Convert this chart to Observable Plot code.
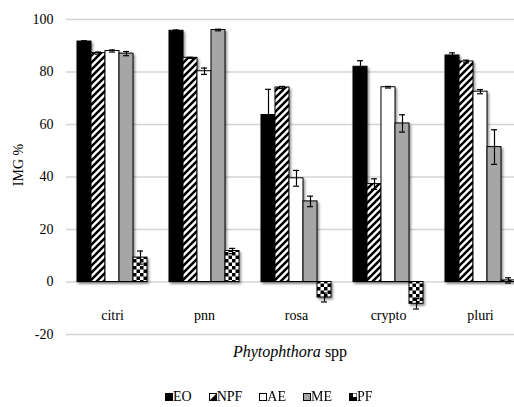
<!DOCTYPE html>
<html>
<head>
<meta charset="utf-8">
<script src="https://cdn.jsdelivr.net/npm/d3@7"></script>
<script src="https://cdn.jsdelivr.net/npm/@observablehq/plot@0.6"></script>
<style>
  html, body { margin: 0; padding: 0; background: #fff; width: 514px; height: 407px; overflow: hidden; }
  #wrap { position: relative; width: 514px; height: 407px; overflow: hidden; }
  #chart svg { max-width: none !important; width: 530px !important; height: 366px !important; display: block; }
  #legend { position: absolute; left: 165px; top: 389px; display: flex; gap: 17px; font-family: "Liberation Serif", "Times New Roman", serif; font-size: 14px; color: #000; align-items: center; }
  #legend .item { display: flex; align-items: center; }
</style>
</head>
<body>
<div id="wrap"><div id="chart"></div><div id="legend"></div></div>
<script>
const categories = ["citri", "pnn", "rosa", "crypto", "pluri"];
const series = ["EO", "NPF", "AE", "ME", "PF"];
const EO = [91.6, 95.7, 63.6, 82.0, 86.3];
const EO_err = [0.3, 0.3, 9.8, 2.3, 1.0];
const NPF = [87.2, 85.4, 74.1, 37.3, 84.0];
const NPF_err = [0.4, 0.2, 0.4, 2.0, 0.5];
const AE = [88.0, 80.3, 39.5, 74.2, 72.5];
const AE_err = [0.4, 1.2, 3.0, 0.3, 0.8];
const ME = [87.0, 96.0, 30.7, 60.4, 51.4];
const ME_err = [0.8, 0.3, 2.0, 3.3, 6.6];
const PF = [9.3, 11.8, -5.9, -8.3, 0.6];
const PF_err = [2.5, 1.0, 1.7, 2.0, 1.0];
const yTicks = [-20, 0, 20, 40, 60, 80, 100];

const values = {EO, NPF, AE, ME, PF};
const errors = {EO: EO_err, NPF: NPF_err, AE: AE_err, ME: ME_err, PF: PF_err};
const data = [];
categories.forEach((c, i) => series.forEach(s => data.push({cat: c, series: s, value: values[s][i], err: errors[s][i]})));

const fills = ["#000000", "url(#pat-npf)", "#ffffff", "#a6a6a6", "url(#pat-pf)"];

const chart = Plot.plot({
  width: 530,
  height: 366,
  marginLeft: 66,
  marginRight: 4,
  marginTop: 19,
  marginBottom: 32,
  style: {fontFamily: "'Liberation Serif', 'Times New Roman', serif", fontSize: "14px", color: "#000", background: "transparent", maxWidth: "none"},
  fx: {domain: categories, padding: 0},
  x: {domain: series, paddingInner: 0, paddingOuter: 0.69, axis: null},
  y: {domain: [-20, 100], ticks: yTicks},
  color: {domain: series, range: fills},
  marks: [
    Plot.gridY(yTicks, {stroke: "#d4d4d4", strokeOpacity: 1, strokeWidth: 1.4}),
    Plot.axisY(yTicks, {tickSize: 0, tickPadding: 13, label: null, fontSize: 14, tickFormat: d => String(d)}),
    Plot.axisFx({anchor: "bottom", tickSize: 0, tickPadding: 0, dy: -24, label: null, fontSize: 14}),
    Plot.barY(data, {fx: "cat", x: "series", y: "value", fill: "series", stroke: "#000", strokeWidth: 1}),
    Plot.ruleX(data, {fx: "cat", x: "series", y1: d => d.value - d.err, y2: d => d.value + d.err, stroke: "#000", strokeWidth: 1.2}),
    Plot.tickY(data, {fx: "cat", x: "series", y: d => d.value + d.err, insetLeft: 4, insetRight: 4, stroke: "#000", strokeWidth: 1.2}),
    Plot.tickY(data, {fx: "cat", x: "series", y: d => d.value - d.err, insetLeft: 4, insetRight: 4, stroke: "#000", strokeWidth: 1.2})
  ]
});

const svg = d3.select(chart);
const defs = svg.insert("defs", ":first-child");
defs.html(`
  <pattern id="pat-npf" patternUnits="userSpaceOnUse" width="7" height="7">
    <rect width="7" height="7" fill="#fff"/>
    <path d="M-1.75,1.75 L1.75,-1.75 M0,7 L7,0 M5.25,8.75 L8.75,5.25" stroke="#000" stroke-width="2.5"/>
  </pattern>
  <pattern id="pat-pf" patternUnits="userSpaceOnUse" width="7" height="7">
    <rect width="7" height="7" fill="#fff"/>
    <rect width="3.5" height="3.5" fill="#000"/>
    <rect x="3.5" y="3.5" width="3.5" height="3.5" fill="#000"/>
  </pattern>
  <filter id="shadow" x="-20%" y="-20%" width="150%" height="150%">
    <feDropShadow dx="1.5" dy="2" stdDeviation="1.3" flood-color="#000" flood-opacity="0.45"/>
  </filter>`);
svg.selectAll("g[aria-label='bar']").attr("filter", "url(#shadow)");

// y-axis title
svg.append("text")
  .attr("transform", "translate(23,165) rotate(-90)")
  .attr("text-anchor", "middle")
  .attr("font-size", 14)
  .text("IMG %");

// x-axis title with italic genus
const xt = svg.append("text")
  .attr("x", 290).attr("y", 357)
  .attr("text-anchor", "middle")
  .attr("font-size", 16);
xt.append("tspan").attr("font-style", "italic").text("Phytophthora");
xt.append("tspan").text(" spp");

document.getElementById("chart").appendChild(chart);

// legend
const legend = d3.select("#legend");
series.forEach((s, i) => {
  const item = legend.append("div").attr("class", "item");
  const sw = item.append("svg").attr("width", 8).attr("height", 8);
  if (i === 1) {
    sw.html(`<rect x="0.5" y="0.5" width="7" height="7" fill="#fff" stroke="#000"/><path d="M0.5,7.5 L7.5,0.5 L7.5,7.5 Z" fill="#000"/>`);
  } else if (i === 4) {
    sw.html(`<rect x="0.5" y="0.5" width="7" height="7" fill="#000" stroke="#000"/><rect x="4" y="0.5" width="3.5" height="3.5" fill="#fff"/>`);
  } else {
    sw.html(`<rect x="0.5" y="0.5" width="7" height="7" fill="${fills[i]}" stroke="#000"/>`);
  }
  item.append("span").text(s);
});
</script>
</body>
</html>
